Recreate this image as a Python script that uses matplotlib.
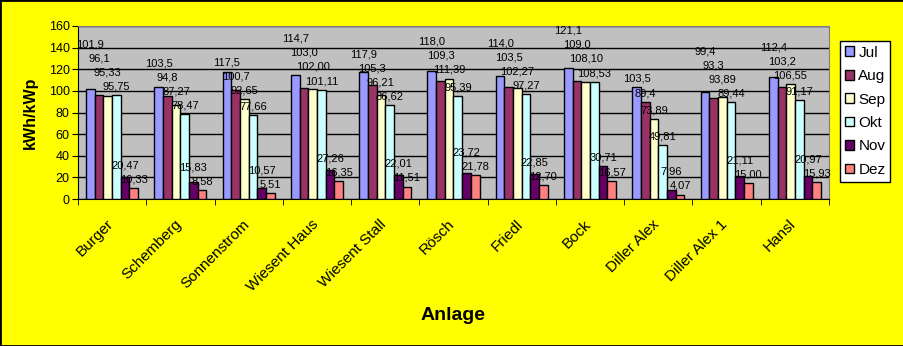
import matplotlib.pyplot as plt
import matplotlib.patches as patches
import matplotlib.transforms as mtransforms
import numpy as np

plt.rcParams['font.family'] = ['Liberation Sans', 'DejaVu Sans']

anlagen = ['Burger', 'Schemberg', 'Sonnenstrom', 'Wiesent Haus', 'Wiesent Stall',
           'Rösch', 'Friedl', 'Bock', 'Diller Alex', 'Diller Alex 1', 'Hansl']
monate = ['Jul', 'Aug', 'Sep', 'Okt', 'Nov', 'Dez']

jul = [101.9, 103.5, 117.5, 114.7, 117.9, 118.0, 114.0, 121.1, 103.5, 99.4, 112.4]
aug = [96.1, 94.8, 100.7, 103.0, 105.3, 109.3, 103.5, 109.0, 89.4, 93.3, 103.2]
sep = [95.33, 87.27, 92.65, 102.00, 96.21, 111.39, 102.27, 108.10, 73.89, 93.89, 106.55]
okt = [95.75, 78.47, 77.66, 101.11, 86.62, 95.39, 97.27, 108.53, 49.81, 89.44, 91.17]
nov = [20.47, 15.83, 10.57, 27.26, 22.01, 23.72, 22.85, 30.71, 7.96, 21.11, 20.97]
dez = [10.33, 8.58, 5.51, 16.35, 11.51, 21.78, 12.70, 16.57, 4.07, 15.00, 15.93]
dezimalen = [1, 1, 2, 2, 2, 2]

farben = ['#9999FF', '#993366', '#FFFFCC', '#CCFFFF', '#660066', '#FF8080']

werte = np.array([jul, aug, sep, okt, nov, dez])

fig = plt.figure(figsize=(9.04, 3.46), dpi=100)
fig.patch.set_facecolor('#FFFF00')
ax = fig.add_axes([78 / 904, 1 - 199 / 346, 751 / 904, 173 / 346])
ax.set_facecolor('#C0C0C0')

x = np.arange(len(anlagen))
breite = 0.127
for i, (m, f) in enumerate(zip(monate, farben)):
    pos = x + (i - 2.5) * breite
    ax.bar(pos, werte[i], breite, color=f, edgecolor='black', linewidth=1.0,
           label=m, zorder=3)

# Beschriftungen treppenartig wie im Original
for j in range(len(anlagen)):
    ypos = [0.0] * 6
    naechst = -100
    for i in range(5, -1, -1):
        ypos[i] = max(werte[i, j] + 8, naechst + 13)
        naechst = ypos[i]
    for i in range(6):
        txt = f'{werte[i, j]:.{dezimalen[i]}f}'.replace('.', ',')
        ax.text(x[j] + (i - 2.5) * breite, ypos[i], txt, ha='center', va='center',
                fontsize=8, zorder=4)

ax.set_xlim(-0.5, len(anlagen) - 0.5)
ax.set_ylim(0, 160)
ax.set_yticks(np.arange(0, 161, 20))
ax.yaxis.grid(True, color='black', linewidth=1.0, zorder=0)
ax.set_axisbelow(True)
ax.tick_params(axis='y', direction='out', length=4, labelsize=9, pad=2)

ax.set_xticks(x)
ax.set_xticklabels(anlagen, rotation=45, ha='right', va='top',
                   rotation_mode='anchor', fontsize=11)
ax.tick_params(axis='x', which='major', length=0, pad=13)
versatz = mtransforms.ScaledTranslation(-6 / 100, 0, fig.dpi_scale_trans)
for lab in ax.get_xticklabels():
    lab.set_transform(lab.get_transform() + versatz)
ax.set_xticks(np.arange(-0.5, len(anlagen), 1), minor=True)
ax.tick_params(axis='x', which='minor', direction='out', length=4)

for s in ['top', 'right']:
    ax.spines[s].set_color('#808080')
for s in ['left', 'bottom']:
    ax.spines[s].set_color('black')

ax.set_ylabel('kWh/kWp', fontsize=11.5, fontweight='bold', labelpad=8)
fig.text(453 / 904, 1 - 315 / 346, 'Anlage', fontsize=14, fontweight='bold',
         ha='center', va='center')

leg = fig.legend(loc='upper left', bbox_to_anchor=(840 / 904, 1 - 41 / 346),
                 borderaxespad=0, fontsize=11, frameon=True, fancybox=False,
                 handlelength=0.6, handleheight=0.6, handletextpad=0.3,
                 labelspacing=0.62, borderpad=0.3)
leg.get_frame().set_edgecolor('black')
leg.get_frame().set_facecolor('white')
leg.get_frame().set_alpha(1)

fig.add_artist(patches.Rectangle((0, 0), 1, 1, transform=fig.transFigure,
                                 fill=False, edgecolor='black', linewidth=2))

plt.savefig('out.png', dpi=100, facecolor=fig.get_facecolor())
